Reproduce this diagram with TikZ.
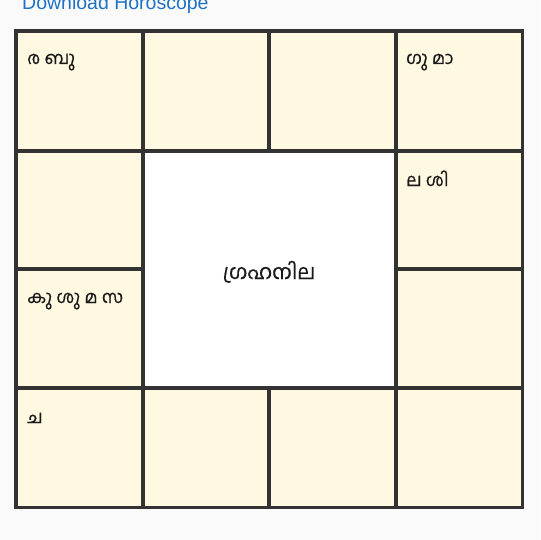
\documentclass[tikz,border=0pt]{standalone}
\usepackage{fontspec}
\setmainfont{Liberation Sans}
\newfontfamily\malfont[Script=Malayalam,FakeBold=0.6]{Hind Kochi}
\definecolor{pagebg}{HTML}{FAFAFA}
\definecolor{cellfill}{HTML}{FFF9E1}
\definecolor{gridcol}{HTML}{333333}
\definecolor{linkblue}{HTML}{1F72C4}
\definecolor{textcol}{HTML}{1A1A1A}
\tikzset{
  chartline/.style = {draw=gridcol, line width=3.6pt, line cap=rect},
  planettext/.style = {anchor=base west, inner sep=0pt, text=textcol,
    font=\malfont\fontsize{17.5}{20}\selectfont},
  centretext/.style = {anchor=base, inner sep=0pt, text=textcol,
    font=\malfont\fontsize{20.5}{24}\selectfont},
  linktext/.style = {anchor=base west, inner sep=0pt, text=linkblue,
    font=\fontsize{19.5}{22}\selectfont}
}

\begin{document}
\begin{tikzpicture}[x=1pt,y=-1pt]
  \fill[pagebg] (0,0) rectangle (540,540);
  \useasboundingbox (0,0) rectangle (540,540);
  \clip (0,0) rectangle (540,540);

  % link above the chart
  \node[linktext] (download) at (22,9.5) {Download Horoscope};

  % cells and the empty centre
  \fill[cellfill] (16,31) rectangle (522.5,507.5);
  \fill[white] (143,151) rectangle (396,388);

  \draw[chartline]
    (16,31) rectangle (522.5,507.5)
    (143,31) -- (143,507.5)
    (396,31) -- (396,507.5)
    (269,31) -- (269,151)
    (269,388) -- (269,507.5)
    (16,151) -- (522.5,151)
    (16,388) -- (522.5,388)
    (16,269) -- (143,269)
    (396,269) -- (522.5,269)
    ;

  % planets in the houses
  \node[planettext] (house1)  at (27,64)  {ര ബു};
  \node[planettext] (house4)  at (406,64) {ഗു മാ};
  \node[planettext] (house5)  at (406,186) {ല ശി};
  \node[planettext] (house11) at (27,303) {കു ശു മ സ};
  \node[planettext] (house10) at (27,423) {ച};
  \node[centretext] (title)   at (269,279) {ഗ്രഹനില};
\end{tikzpicture}
\end{document}
